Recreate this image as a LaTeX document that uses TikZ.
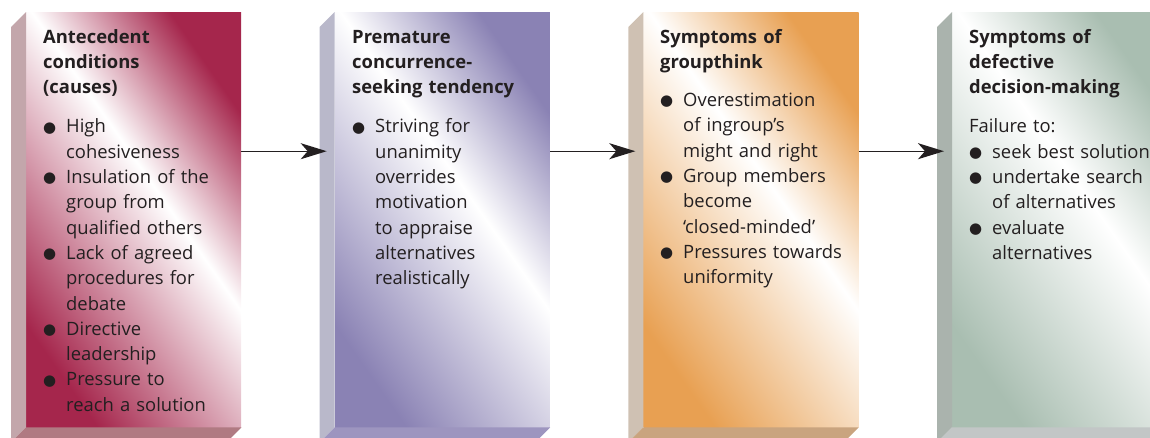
\documentclass[tikz,border=0pt]{standalone}
\usepackage{fontspec}
\setmainfont{Open Sans}
\newfontfamily\dejavu{DejaVu Sans}
\usetikzlibrary{arrows.meta}
\definecolor{ink}{HTML}{231F20}
\definecolor{dkA}{HTML}{A5264C}
\definecolor{sdA}{HTML}{C3A6AB}
\definecolor{btA}{HTML}{B07A82}
\definecolor{dkB}{HTML}{8A82B4}
\definecolor{sdB}{HTML}{B9B8CA}
\definecolor{btB}{HTML}{9D95BF}
\definecolor{dkC}{HTML}{E8A052}
\definecolor{sdC}{HTML}{CFC1B3}
\definecolor{btC}{HTML}{C9A47F}
\definecolor{dkD}{HTML}{A9BEB1}
\definecolor{sdD}{HTML}{AAB3AD}
\definecolor{btD}{HTML}{C2C6C6}
\colorlet{bandcol}{dkA}
\pgfdeclareverticalshading[bandcol]{band}{100bp}{color(0bp)=(bandcol); color(25bp)=(bandcol);
  color(56bp)=(white); color(75bp)=(bandcol); color(100bp)=(bandcol)}
\newcommand\blt{\makebox[23pt][l]{\raisebox{0.8pt}{\dejavu\fontsize{15}{15}\selectfont ●}}}
\newcommand\bul[1]{\par\noindent\hangindent=23pt\hangafter=1\blt{\let\\\newline #1\par}}
\begin{document}
\begin{tikzpicture}[x=1pt,y=-1pt,
  front/.style={minimum width=215pt, minimum height=415pt, inner sep=0pt, anchor=north west, draw=none,
    shading=band, shading angle=-55},
  txt/.style={anchor=base west, inner sep=0pt, text width=240pt, align=left,
    font=\fontsize{18.4}{25.3}\selectfont, text=ink},
  arr/.style={-{Stealth[length=26pt,width=16pt,inset=7pt]}, line width=1.4pt, draw=ink}]
\path[use as bounding box] (0,0) rectangle (1150,437);
\clip (0,0) rectangle (1150,437);
\foreach \i/\x/\c in {1/26/A, 2/334.7/B, 3/643.3/C, 4/952/D}{
  \colorlet{bandcol}{dk\c}
  \node[front] (f\i) at (\x,12) {};
  \fill[sd\c] ([xshift=-15pt,yshift=-15pt]f\i.north west) -- (f\i.north west) -- (f\i.south west)
     -- ([xshift=-15pt,yshift=-15pt]f\i.south west) -- cycle;
  \fill[bt\c] (f\i.south west) -- (f\i.south east) -- ([xshift=-15pt,yshift=-15pt]f\i.south east)
     -- ([xshift=-15pt,yshift=-15pt]f\i.south west) -- cycle;
}
\node[txt] (t1) at (43,43) {{\bfseries Antecedent\\conditions\\(causes)\par}\vspace{14pt}
  \bul{High\\cohesiveness}
  \bul{Insulation of the\\group from\\qualified others}
  \bul{Lack of agreed\\procedures for\\debate}
  \bul{Directive\\leadership}
  \bul{Pressure to\\reach a solution}};
\node[txt] (t2) at (352,43) {{\bfseries Premature\\concurrence-\\seeking tendency\par}\vspace{14pt}
  \bul{Striving for\\unanimity\\overrides\\motivation\\to appraise\\alternatives\\realistically}};
\node[txt] (t3) at (660,43) {{\bfseries Symptoms of\\groupthink\par}\vspace{13pt}
  \bul{Overestimation\\of ingroup’s\\might and right}
  \bul{Group members\\become\\‘closed-minded’}
  \bul{Pressures towards\\uniformity}};
\node[txt] (t4) at (969,43) {{\bfseries Symptoms of\\defective\\decision-making\par}\vspace{14pt}
  Failure to:\par
  \bul{seek best solution}
  \bul{undertake search\\of alternatives}
  \bul{evaluate\\alternatives}};
\draw[arr] ([yshift=68.5pt]f1.east) -- ([xshift=-8pt,yshift=68.5pt]f2.west);
\draw[arr] ([yshift=68.5pt]f2.east) -- ([xshift=-8pt,yshift=68.5pt]f3.west);
\draw[arr] ([yshift=68.5pt]f3.east) -- ([xshift=-8pt,yshift=68.5pt]f4.west);
\end{tikzpicture}
\end{document}
